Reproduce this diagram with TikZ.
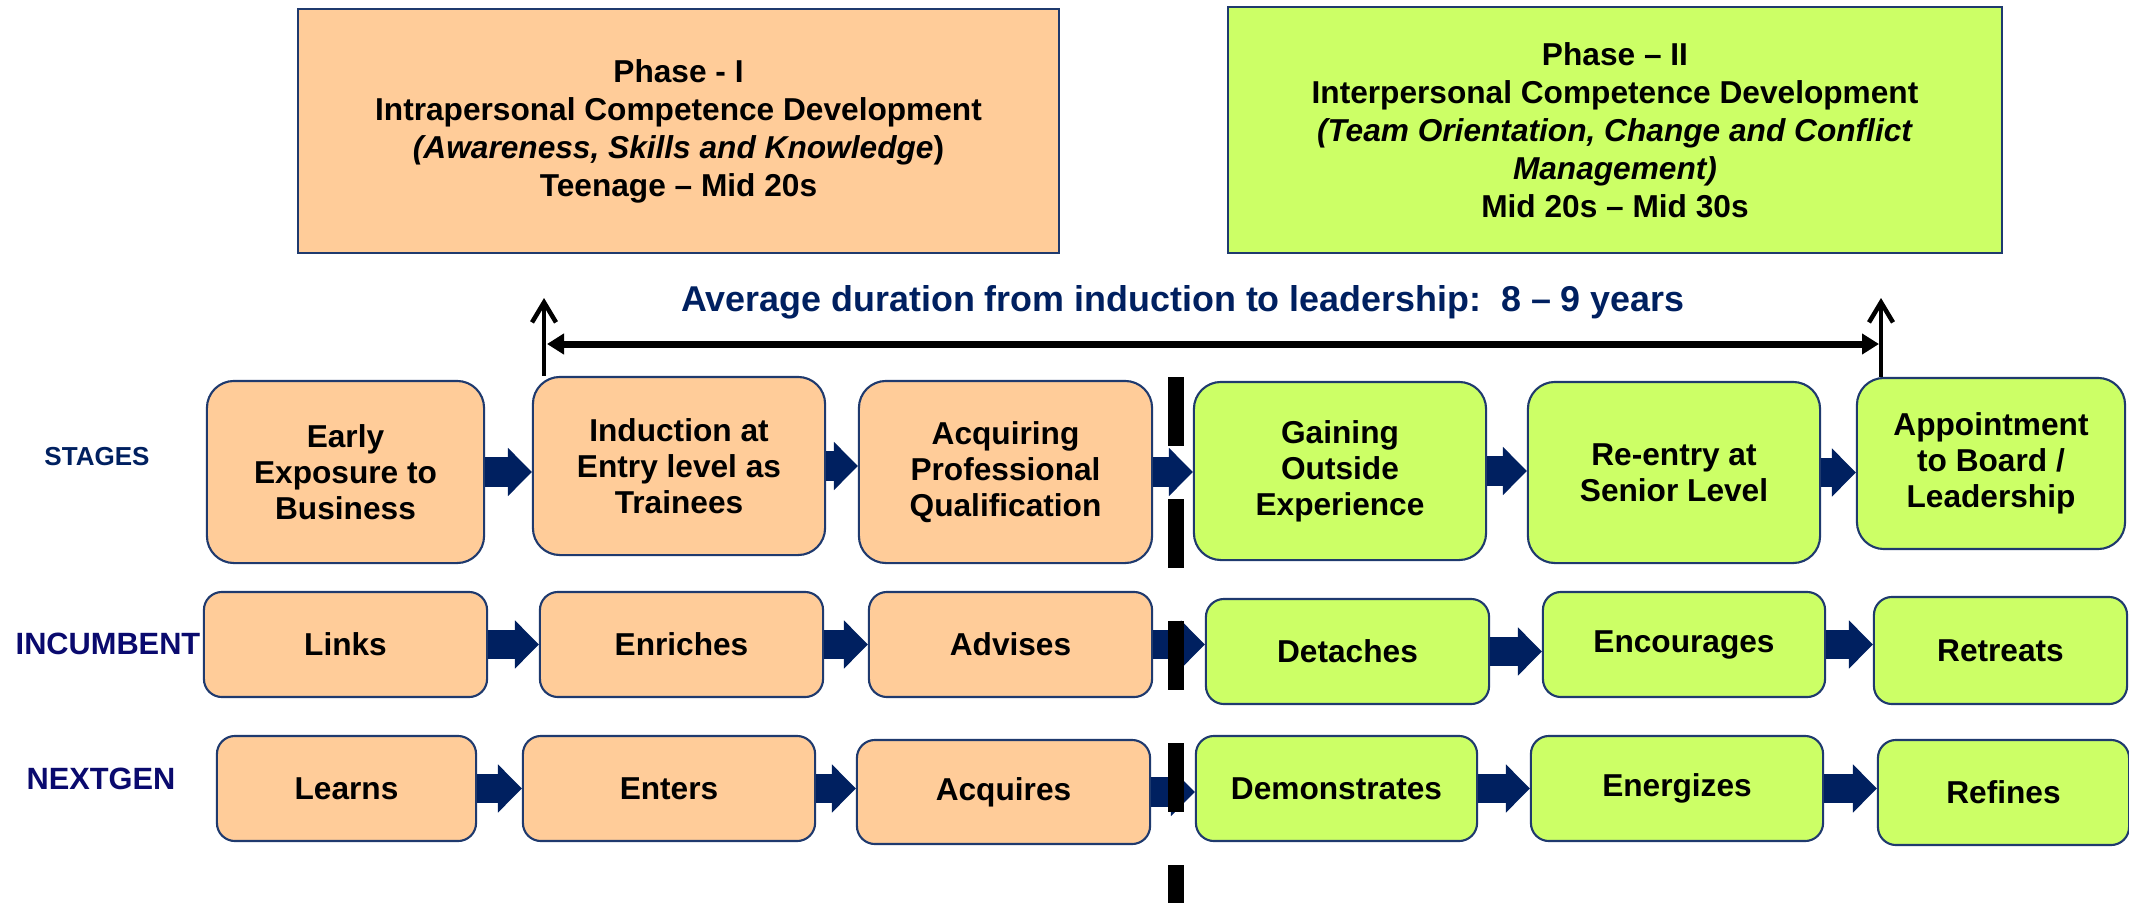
\documentclass[tikz,border=0pt]{standalone}
\usepackage{fontspec}
\setmainfont{Liberation Sans}
\usepackage{tikz}
\usetikzlibrary{arrows.meta}
\definecolor{peach}{HTML}{FFCC99}
\definecolor{lime}{HTML}{CCFF66}
\definecolor{edge}{HTML}{1F3A6E}
\definecolor{navy}{HTML}{002060}
\definecolor{ink}{HTML}{0A0A6E}
\tikzset{box/.style = {draw = edge, line width = 0.6pt, inner sep = 0, align = center,
                       font = \fontsize{9}{10.2}\selectfont\bfseries}}
\tikzset{stage/.style = {box, rounded corners = 0.27cm}}
\tikzset{role/.style = {box, rounded corners = 0.18cm}}
\tikzset{phase/.style = {box, font = \fontsize{9}{10.8}\selectfont\bfseries}}
\tikzset{flow/.style = {draw = navy, line width = 0.29cm,
                        -{Triangle[length = 0.24cm, width = 0.47cm]}}}
\tikzset{tag/.style = {text = ink, font = \fontsize{8.75}{10}\selectfont\bfseries}}

\begin{document}
\begin{tikzpicture}[x = 0.01cm, y = -0.01cm]
  \useasboundingbox (0, 0) rectangle (2129, 903);

  % phases
  \node [phase, fill = peach, minimum width = 7.61cm, minimum height = 2.44cm] (phase1) at (678.5, 131)
    {Phase - I\\Intrapersonal Competence Development\\\textit{(Awareness, Skills and Knowledge})\\Teenage -- Mid 20s};
  \node [phase, fill = lime, minimum width = 7.74cm, minimum height = 2.46cm] (phase2) at (1615, 130)
    {Phase -- II\\Interpersonal Competence Development\\\textit{(Team Orientation, Change and Conflict}\\\textit{Management)}\\Mid 20s -- Mid 30s};

  % duration
  \coordinate (spanL) at (544, 298);
  \coordinate (spanR) at (1881, 298);
  \coordinate (durL) at (547, 344);
  \coordinate (durR) at (1879, 344);
  \node [text = navy, font = \fontsize{10.2}{12}\selectfont\bfseries] (dur) at (1183, 302)
    {Average duration from induction to leadership:\ \ 8 -- 9 years};

  % row labels
  \node [tag, text = navy, font = \fontsize{7.4}{9}\selectfont\bfseries] (stages) at (97, 457) {STAGES};
  \node [tag] (incumbent) at (108, 644) {INCUMBENT};
  \node [tag] (nextgen) at (101, 779) {NEXTGEN};

  % stages
  \node [stage, fill = peach, minimum width = 2.77cm, minimum height = 1.82cm] (early) at (345.5, 472) {Early\\Exposure to\\Business};
  \node [stage, fill = peach, minimum width = 2.92cm, minimum height = 1.78cm] (induct) at (679, 466) {Induction at\\Entry level as\\Trainees};
  \node [stage, fill = peach, minimum width = 2.93cm, minimum height = 1.82cm] (qualify) at (1005.5, 472) {Acquiring\\Professional\\Qualification};
  \node [stage, fill = lime, minimum width = 2.92cm, minimum height = 1.78cm] (outside) at (1340, 471) {Gaining\\Outside\\Experience};
  \node [stage, fill = lime, minimum width = 2.92cm, minimum height = 1.81cm] (reentry) at (1674, 472.5) {Re-entry at\\Senior Level};
  \node [stage, fill = lime, minimum width = 2.68cm, minimum height = 1.71cm] (board) at (1991, 463.5) {Appointment\\to Board /\\Leadership};

  % incumbent
  \node [role, fill = peach, minimum width = 2.83cm, minimum height = 1.05cm] (links) at (345.5, 644.5) {Links};
  \node [role, fill = peach, minimum width = 2.83cm, minimum height = 1.05cm] (enriches) at (681.5, 644.5) {Enriches};
  \node [role, fill = peach, minimum width = 2.83cm, minimum height = 1.05cm] (advises) at (1010.5, 644.5) {Advises};
  \node [role, fill = lime, minimum width = 2.83cm, minimum height = 1.05cm] (detaches) at (1347.5, 651.5) {Detaches};
  \node [role, fill = lime, minimum width = 2.82cm, minimum height = 1.05cm] (encourages) at (1684, 644.5) {Encourages};
  \node [role, fill = lime, minimum width = 2.53cm, minimum height = 1.07cm] (retreats) at (2000.5, 650.5) {Retreats};

  % nextgen
  \node [role, fill = peach, minimum width = 2.59cm, minimum height = 1.05cm] (learns) at (346.5, 788.5) {Learns};
  \node [role, fill = peach, minimum width = 2.92cm, minimum height = 1.05cm] (enters) at (669, 788.5) {Enters};
  \node [role, fill = peach, minimum width = 2.93cm, minimum height = 1.04cm] (acquires) at (1003.5, 792) {Acquires};
  \node [role, fill = lime, minimum width = 2.81cm, minimum height = 1.05cm] (demonstrates) at (1336.5, 788.5) {Demonstrates};
  \node [role, fill = lime, minimum width = 2.92cm, minimum height = 1.05cm] (energizes) at (1677, 788.5) {Energizes};
  \node [role, fill = lime, minimum width = 2.51cm, minimum height = 1.05cm] (refines) at (2003.5, 792.5) {Refines};

  % block arrows
  \draw [flow] (early.east) -- (early.east -| induct.west);
  \draw [flow] (induct.east) -- (induct.east -| qualify.west);
  \draw [flow] (qualify.east) -- (qualify.east -| outside.west);
  \draw [flow] (outside.east) -- (outside.east -| reentry.west);
  \draw [flow] (reentry.east) -- (reentry.east -| board.west);
  \draw [flow] (links.east) -- (links.east -| enriches.west);
  \draw [flow] (enriches.east) -- (enriches.east -| advises.west);
  \draw [flow] (advises.east) -- (advises.east -| detaches.west);
  \draw [flow] (detaches.east) -- (detaches.east -| encourages.west);
  \draw [flow] (encourages.east) -- (encourages.east -| retreats.west);
  \draw [flow] (learns.east) -- (learns.east -| enters.west);
  \draw [flow] (enters.east) -- (enters.east -| acquires.west);
  \draw [flow] (acquires.east) -- (acquires.east -| demonstrates.west);
  \draw [flow] (demonstrates.east) -- (demonstrates.east -| energizes.west);
  \draw [flow] (energizes.east) -- (energizes.east -| refines.west);

  % induction to leadership span
  \draw [line width = 0.045cm, -{Straight Barb[length = 0.2cm, width = 0.24cm]}] (induct.north -| spanL) -- (spanL);
  \draw [line width = 0.045cm, -{Straight Barb[length = 0.2cm, width = 0.24cm]}] (board.north -| spanR) -- (spanR);
  \draw [line width = 0.07cm, {Triangle[length = 0.17cm, width = 0.2cm]}-{Triangle[length = 0.17cm, width = 0.2cm]}] (durL) -- (durR);

  % phase boundary
  \coordinate (cutTop) at (1176, 377);
  \coordinate (cutEnd) at (1176, 903);
  \draw [line width = 0.165cm, dash pattern = on 0.69cm off 0.53cm] (cutTop) -- (cutEnd);
\end{tikzpicture}
\end{document}
